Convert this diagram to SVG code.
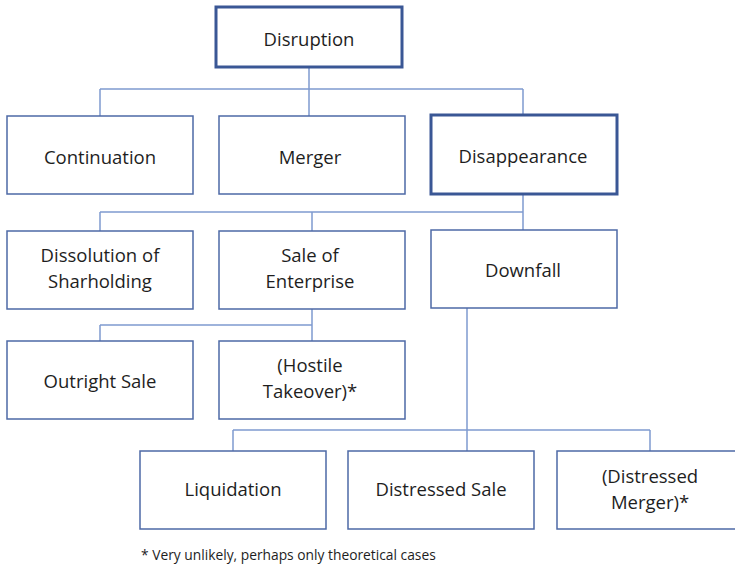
<svg xmlns="http://www.w3.org/2000/svg" width="735" height="566" viewBox="0 0 735 566">
  <style>
    .box { fill: #ffffff; stroke: #4d69a6; stroke-width: 1.5; }
    .box.key { stroke: #3a5795; stroke-width: 3; }
    .lbl { font-family: "Open Sans", "Noto Sans", "Liberation Sans", sans-serif; font-size: 18.5px; fill: #1e1e1e; text-anchor: middle; }
    .note { font-family: "Open Sans", "Noto Sans", "Liberation Sans", sans-serif; font-size: 13.8px; fill: #1e1e1e; }
    .wire { fill: none; stroke: #7f9bd0; stroke-width: 1.5; }
  </style>

  <!-- connectors -->
  <g id="connectors">
    <path class="wire" d="M309 67 V89 M100 89 H523 M100 89 V116 M309 89 V116 M523 89 V115"/>
    <path class="wire" d="M523 194 V212 M100 212 H523 M100 212 V231 M312 212 V231 M523 212 V230"/>
    <path class="wire" d="M312 309 V325 M100 325 H312 M100 325 V341 M312 325 V341"/>
    <path class="wire" d="M467 308 V451 M233 430 H650 M233 430 V451 M650 430 V451"/>
  </g>

  <g id="disruption">
    <rect class="box key" x="216" y="7" width="186" height="60"/>
    <text class="lbl" x="309" y="46">Disruption</text>
  </g>

  <g id="continuation">
    <rect class="box" x="7" y="116" width="186" height="78"/>
    <text class="lbl" x="100" y="164">Continuation</text>
  </g>
  <g id="merger">
    <rect class="box" x="219" y="116" width="186" height="78"/>
    <text class="lbl" x="310" y="164">Merger</text>
  </g>
  <g id="disappearance">
    <rect class="box key" x="431" y="115" width="186" height="79"/>
    <text class="lbl" x="523" y="163">Disappearance</text>
  </g>

  <g id="dissolution">
    <rect class="box" x="7" y="231" width="186" height="78"/>
    <text class="lbl" x="100" y="262">Dissolution of</text>
    <text class="lbl" x="100" y="288">Sharholding</text>
  </g>
  <g id="sale-of-enterprise">
    <rect class="box" x="219" y="231" width="186" height="78"/>
    <text class="lbl" x="310" y="262">Sale of</text>
    <text class="lbl" x="310" y="288">Enterprise</text>
  </g>
  <g id="downfall">
    <rect class="box" x="431" y="230" width="186" height="78"/>
    <text class="lbl" x="523" y="277">Downfall</text>
  </g>

  <g id="outright-sale">
    <rect class="box" x="7" y="341" width="186" height="78"/>
    <text class="lbl" x="100" y="388">Outright Sale</text>
  </g>
  <g id="hostile-takeover">
    <rect class="box" x="219" y="341" width="186" height="78"/>
    <text class="lbl" x="310" y="372">(Hostile</text>
    <text class="lbl" x="310" y="398">Takeover)*</text>
  </g>

  <g id="liquidation">
    <rect class="box" x="140" y="451" width="186" height="78"/>
    <text class="lbl" x="233" y="496">Liquidation</text>
  </g>
  <g id="distressed-sale">
    <rect class="box" x="348" y="451" width="186" height="78"/>
    <text class="lbl" x="441" y="496">Distressed Sale</text>
  </g>
  <g id="distressed-merger">
    <rect class="box" x="557" y="451" width="186" height="78"/>
    <text class="lbl" x="650" y="483">(Distressed</text>
    <text class="lbl" x="650" y="509">Merger)*</text>
  </g>

  <text class="note" x="141" y="560">* Very unlikely, perhaps only theoretical cases</text>
</svg>
